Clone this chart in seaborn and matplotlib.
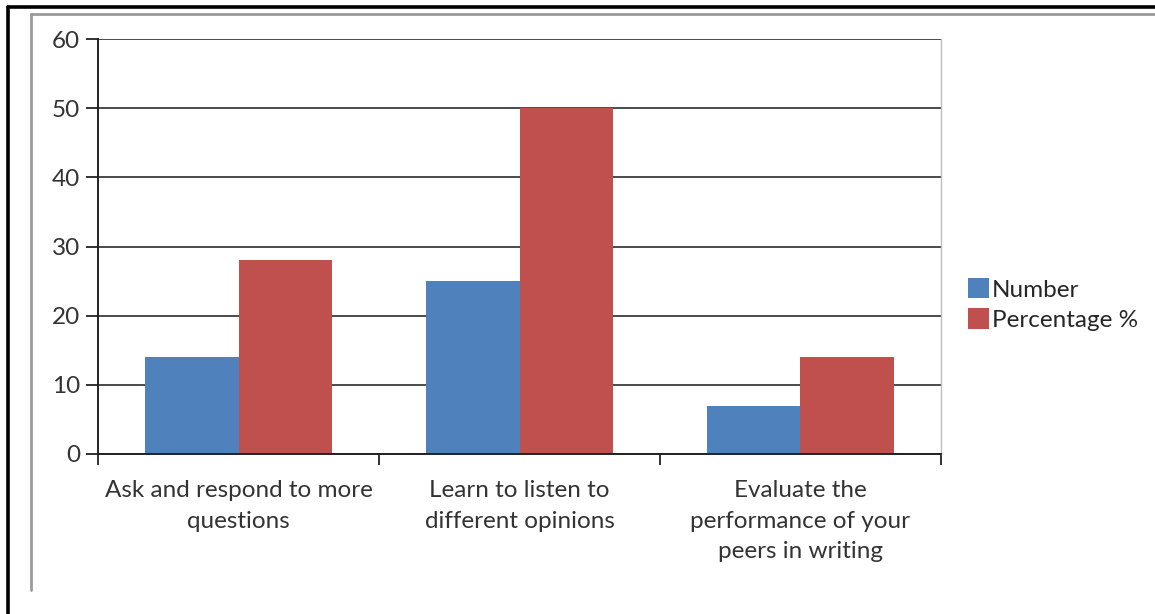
import matplotlib.pyplot as plt
import seaborn as sns
import pandas as pd
from matplotlib.lines import Line2D
from matplotlib.ticker import FixedLocator

# Data
categories = ["Ask and respond to more\nquestions",
              "Learn to listen to\ndifferent opinions",
              "Evaluate the\nperformance of your\npeers in writing"]
number = [14, 25, 7]
percentage = [28, 50, 14]
series_names = ["Number", "Percentage %"]
colors = ["#4F81BD", "#C0504D"]

df = pd.DataFrame({
    "category": categories * 2,
    "value": number + percentage,
    "series": [series_names[0]] * 3 + [series_names[1]] * 3,
})

sns.set_style("white")
plt.rcParams['font.family'] = ['Lato', 'DejaVu Sans']
plt.rcParams['text.color'] = '#262626'

fig = plt.figure(figsize=(11.55, 6.14), dpi=100)
ax = fig.add_axes([98 / 1155, 1 - 454 / 614, (941 - 98) / 1155, (454 - 39) / 614])

sns.barplot(data=df, x="category", y="value", hue="series", palette=colors,
            width=0.665, saturation=1, ax=ax, edgecolor="none", linewidth=0)

ax.set_ylim(0, 60)
ax.set_xlim(-0.5, 2.5)
ax.set_yticks(range(0, 61, 10))
ax.set_xlabel("")
ax.set_ylabel("")

# gridlines and spines
ax.set_axisbelow(True)
ax.yaxis.grid(True, color="#4a4a4a", linewidth=1.4)
ax.xaxis.grid(False)
ax.spines["top"].set_visible(False)
ax.spines["left"].set_color("#222222")
ax.spines["left"].set_linewidth(1.4)
ax.spines["bottom"].set_color("#222222")
ax.spines["bottom"].set_linewidth(1.4)
ax.spines["right"].set_color("#bdbdbd")
ax.spines["right"].set_linewidth(1.0)

fs = 17.5
# ticks
ax.tick_params(axis="y", which="major", left=True, length=9, width=1.3,
               color="#222222", labelsize=fs, labelcolor="#333333", pad=4)
ax.tick_params(axis="x", which="major", bottom=False, length=0, labelsize=fs,
               labelcolor="#333333", pad=19)
ax.xaxis.set_minor_locator(FixedLocator([-0.5, 0.5, 1.5, 2.5]))
ax.tick_params(axis="x", which="minor", bottom=True, length=8, width=1.3,
               color="#222222")
for lbl in ax.get_xticklabels():
    lbl.set_linespacing(1.55)

# legend
handles, labels = ax.get_legend_handles_labels()
ax.legend(handles, labels, loc="center left", bbox_to_anchor=(1.021, 0.36),
          frameon=False, fontsize=fs, handlelength=0.85, handleheight=0.9,
          handletextpad=0.12, labelspacing=0.32, borderaxespad=0)

# screenshot frames
fig.add_artist(Line2D([8 / 1155, 8 / 1155], [0, 1 - 7 / 614], color="black",
                      linewidth=2.6, transform=fig.transFigure))
fig.add_artist(Line2D([8 / 1155, 1], [1 - 7 / 614, 1 - 7 / 614], color="black",
                      linewidth=2.6, transform=fig.transFigure))
fig.add_artist(Line2D([31 / 1155, 31 / 1155], [1 - 590 / 614, 1 - 14 / 614],
                      color="#9a9a9a", linewidth=2.0, transform=fig.transFigure))
fig.add_artist(Line2D([31 / 1155, 1], [1 - 14 / 614, 1 - 14 / 614],
                      color="#9a9a9a", linewidth=2.0, transform=fig.transFigure))

fig.savefig("out.png", dpi=100)
